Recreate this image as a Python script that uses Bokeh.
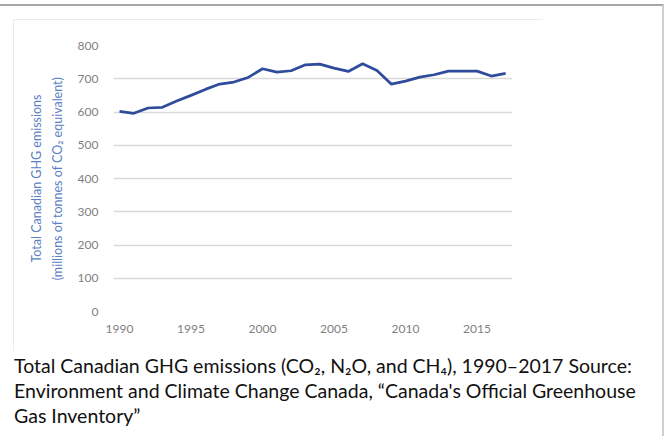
from bokeh.plotting import figure
from bokeh.layouts import column
from bokeh.models import Range1d, FixedTicker, Div
from bokeh.embed import file_html
from bokeh.resources import INLINE

years = [1990, 1991, 1992, 1993, 1994, 1995, 1996, 1997, 1998, 1999,
         2000, 2001, 2002, 2003, 2004, 2005, 2006, 2007, 2008, 2009,
         2010, 2011, 2012, 2013, 2014, 2015, 2016, 2017]
emissions = [602, 596, 612, 614, 633, 650, 668, 684, 690, 704,
             730, 720, 724, 742, 744, 732, 722, 745, 725, 684,
             693, 705, 712, 723, 723, 723, 708, 716]
y_ticks = [0, 100, 200, 300, 400, 500, 600, 700, 800]
x_ticks = [1990, 1995, 2000, 2005, 2010, 2015]
y_label_1 = "Total Canadian GHG emissions"
y_label_2 = "(millions of tonnes of CO\u2082 equivalent)"
caption = [
    "Total Canadian GHG emissions (CO\u2082, N\u2082O, and CH\u2084), 1990\u20132017 Source:",
    "Environment and Climate Change Canada, \u201cCanada's Official Greenhouse",
    "Gas Inventory\u201d",
]

FONT = "Lato"

# ---- chart image (page box x 13..543, y 19..351) ----
p = figure(width=530, height=332, output_backend="svg", toolbar_location=None,
           x_range=Range1d(1989.58, 2017.48), y_range=Range1d(0, 800),
           min_border_left=100, min_border_right=31,
           min_border_top=26, min_border_bottom=40,
           margin=(13, 0, 0, 13),
           styles={"outline": "1px solid #e4e4e4", "outline-offset": "-1px"})
p.background_fill_color = "white"
p.border_fill_color = "white"
p.outline_line_color = None

p.xgrid.visible = False
p.ygrid.grid_line_color = "#d9d9d9"
p.ygrid.grid_line_width = 1.5

for ax in (p.xaxis[0], p.yaxis[0]):
    ax.axis_line_color = None
    ax.major_tick_line_color = None
    ax.minor_tick_line_color = None
    ax.major_tick_out = 0
    ax.major_tick_in = 0
    ax.major_label_text_color = "#7f7f7f"
    ax.major_label_text_font = FONT
    ax.major_label_text_font_size = "12px"

p.yaxis.ticker = FixedTicker(ticks=y_ticks)
p.xaxis.ticker = FixedTicker(ticks=x_ticks)
p.ygrid.ticker = FixedTicker(ticks=y_ticks)
p.yaxis.major_label_standoff = 15
p.xaxis.major_label_standoff = 13

p.yaxis.axis_label = y_label_1 + "\n" + y_label_2
p.yaxis.axis_label_text_font = FONT
p.yaxis.axis_label_text_font_size = "12.5px"
p.yaxis.axis_label_text_font_style = "normal"
p.yaxis.axis_label_text_color = "#5b7fc4"
p.yaxis.axis_label_text_line_height = 1.4
p.yaxis.axis_label_standoff = 10

p.line(years, emissions, line_color="#2f4b9b", line_width=2.7, line_join="round")

# ---- caption (page y 351..436) ----
cap = Div(text="<br>".join(caption), width=650, height=85,
          margin=(0, 0, 0, 0),
          styles={"font-family": FONT, "font-size": "19.5px",
                  "line-height": "25px", "color": "#111111",
                  "padding-left": "14px", "padding-top": "2px",
                  "white-space": "nowrap"})

layout = column(p, cap, spacing=0, width=664,
                styles={"margin-top": "4px",
                        "border-top": "2px solid #a6a6a6",
                        "border-right": "2px solid #cfcfcf"})

open("out.html", "w").write(file_html(layout, INLINE))
